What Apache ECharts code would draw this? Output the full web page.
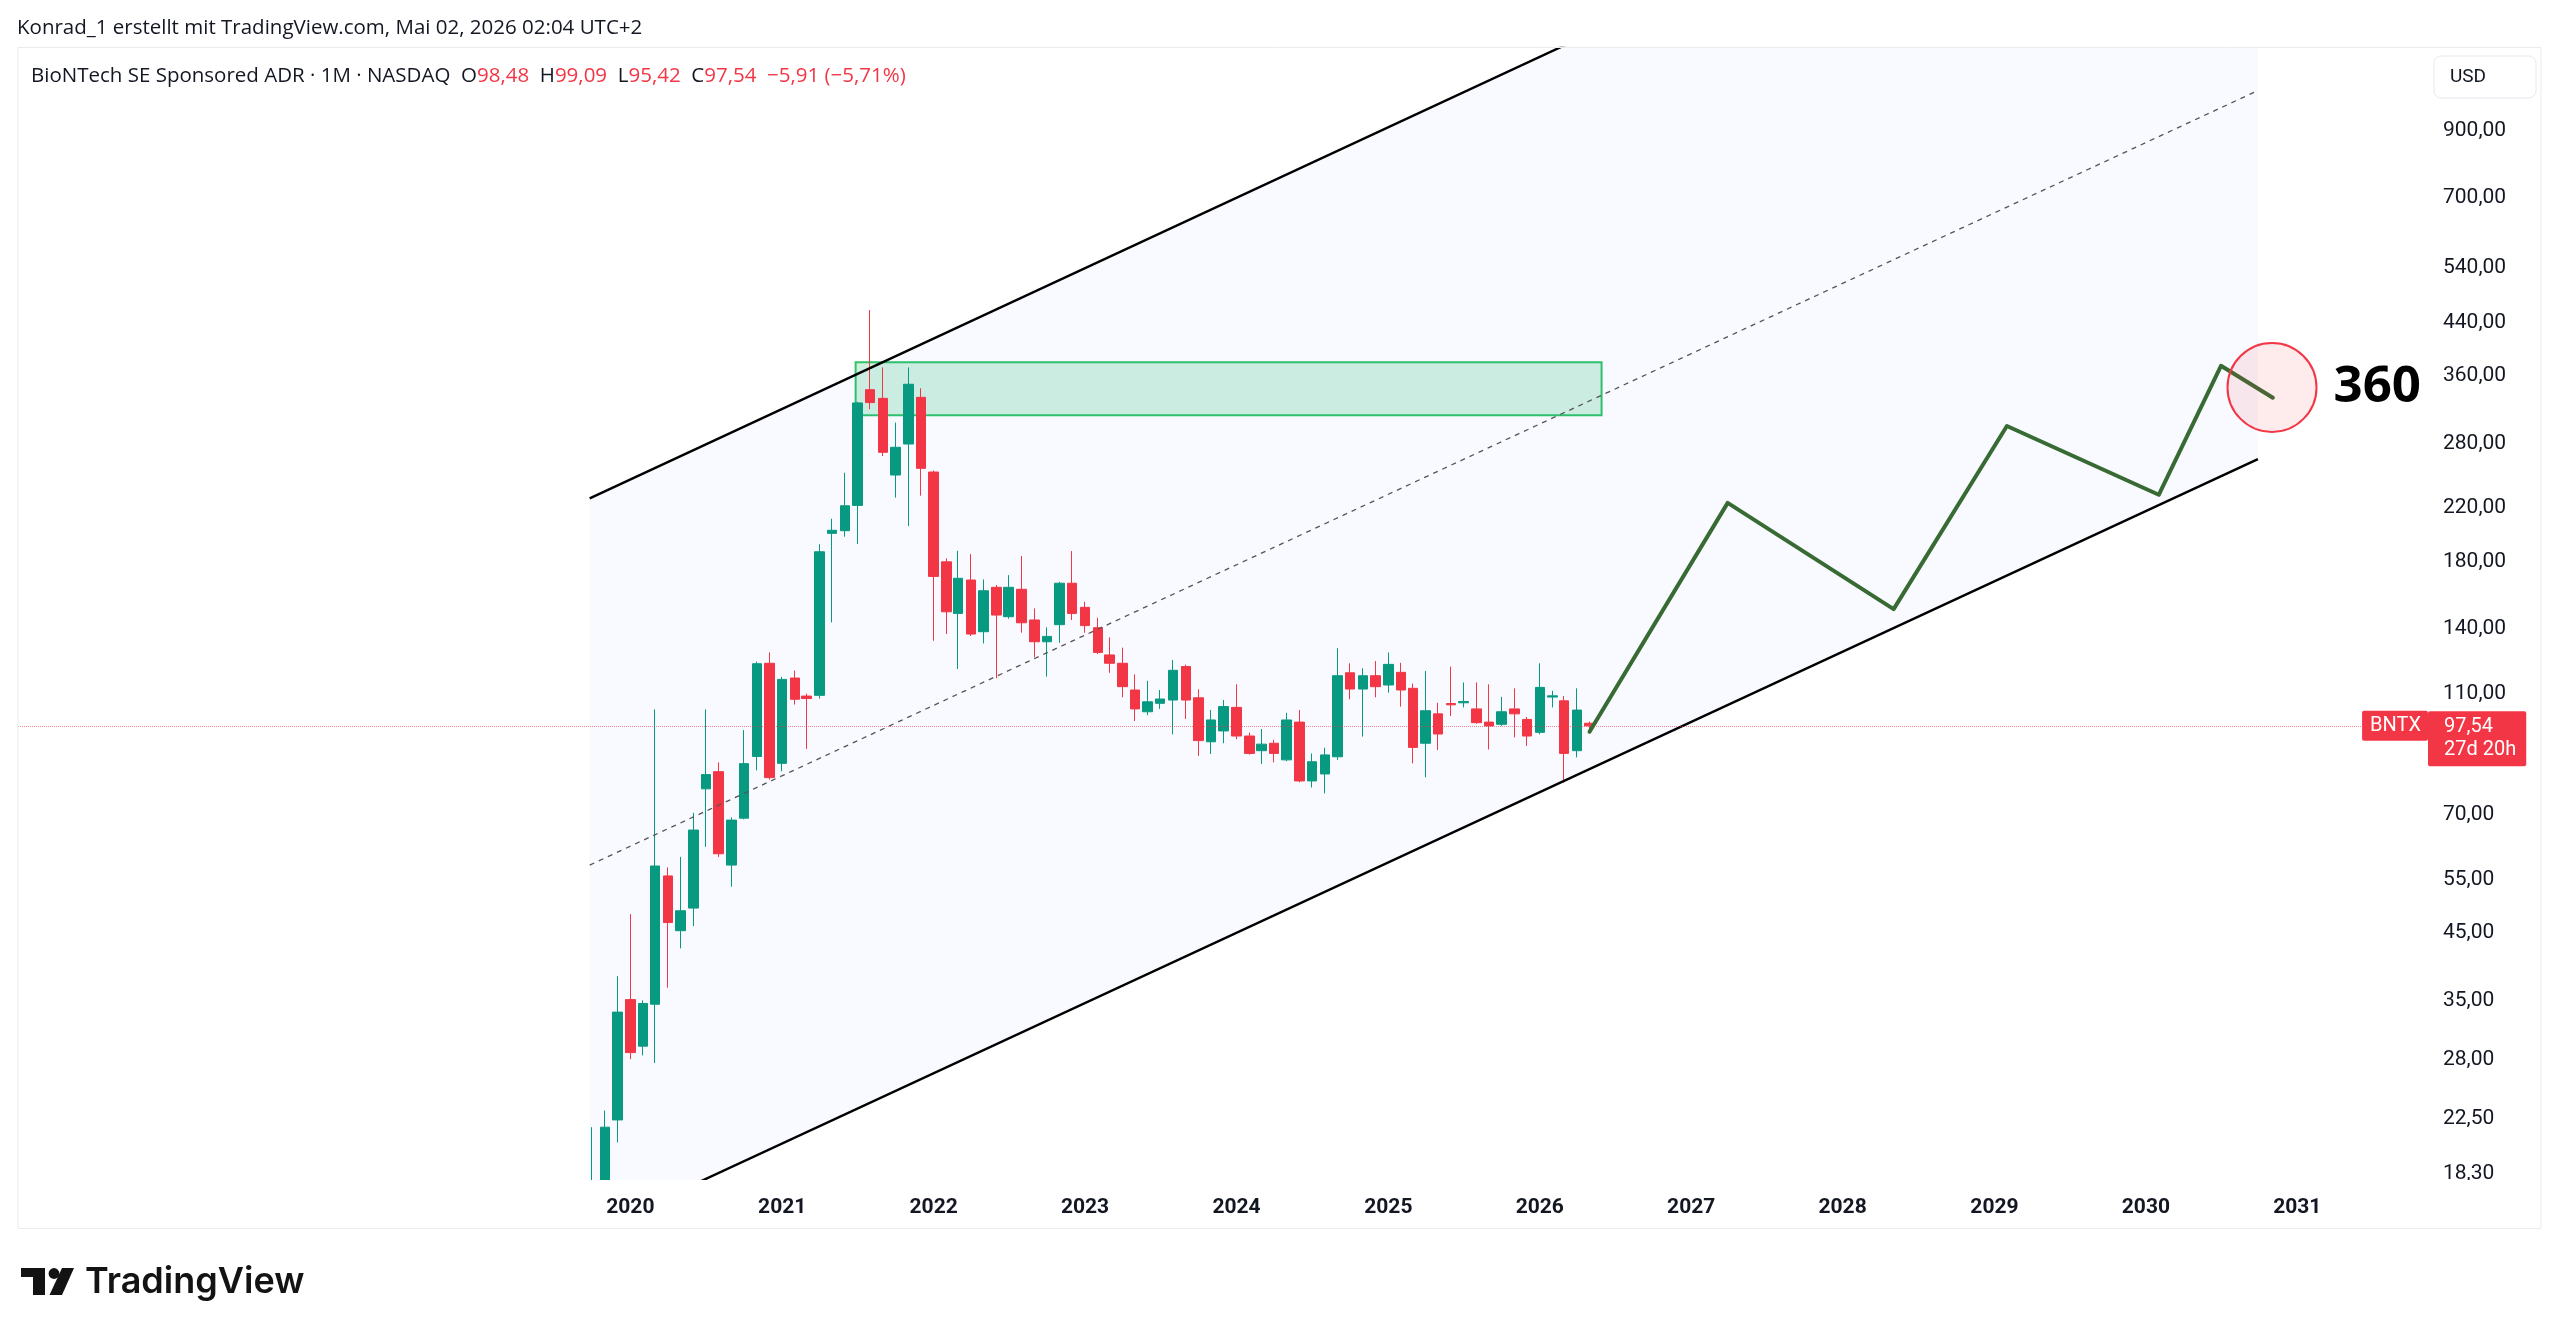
<!DOCTYPE html>
<html>
<head>
<meta charset="utf-8">
<title>BNTX 1M</title>
<script src="https://cdn.jsdelivr.net/npm/echarts@6.0.0/dist/echarts.min.js"></script>
<style>
  html, body { margin: 0; padding: 0; background: #ffffff; }
  #chart { width: 2560px; height: 1336px; }
</style>
</head>
<body>
<div id="chart"></div>
<script>
// monthly candles, BNTX (NASDAQ)
const months = [
  '2019-10-01', '2019-11-01', '2019-12-01',
  '2020-01-01', '2020-02-01', '2020-03-01', '2020-04-01', '2020-05-01', '2020-06-01',
  '2020-07-01', '2020-08-01', '2020-09-01', '2020-10-01', '2020-11-01', '2020-12-01',
  '2021-01-01', '2021-02-01', '2021-03-01', '2021-04-01', '2021-05-01', '2021-06-01',
  '2021-07-01', '2021-08-01', '2021-09-01', '2021-10-01', '2021-11-01', '2021-12-01',
  '2022-01-01', '2022-02-01', '2022-03-01', '2022-04-01', '2022-05-01', '2022-06-01',
  '2022-07-01', '2022-08-01', '2022-09-01', '2022-10-01', '2022-11-01', '2022-12-01',
  '2023-01-01', '2023-02-01', '2023-03-01', '2023-04-01', '2023-05-01', '2023-06-01',
  '2023-07-01', '2023-08-01', '2023-09-01', '2023-10-01', '2023-11-01', '2023-12-01',
  '2024-01-01', '2024-02-01', '2024-03-01', '2024-04-01', '2024-05-01', '2024-06-01',
  '2024-07-01', '2024-08-01', '2024-09-01', '2024-10-01', '2024-11-01', '2024-12-01',
  '2025-01-01', '2025-02-01', '2025-03-01', '2025-04-01', '2025-05-01', '2025-06-01',
  '2025-07-01', '2025-08-01', '2025-09-01', '2025-10-01', '2025-11-01', '2025-12-01',
  '2026-01-01', '2026-02-01', '2026-03-01', '2026-04-01', '2026-05-01'
];
const opens = [
  15.0, 17.5, 22.4,
  35.1, 29.5, 34.5, 55.7, 45.4, 49.4, 77.1, 82.2, 58.0, 69.1, 87.0, 123.2,
  84.8, 116.6, 109.0, 109.3, 200.1, 202.1, 222.1, 342.1, 331.2, 248.8, 279.3, 332.5,
  251.6, 179.9, 148.4, 168.1, 138.6, 163.6, 146.6, 162.4, 144.8, 133.5, 142.3, 166.1,
  151.8, 140.7, 127.1, 123.2, 111.5, 102.8, 106.1, 107.4, 121.7, 108.3, 91.9, 95.7,
  104.5, 93.9, 88.9, 91.4, 85.9, 98.9, 79.4, 81.5, 86.9, 118.9, 111.9, 117.6,
  113.6, 119.1, 112.2, 91.4, 102.0, 106.0, 106.3, 103.9, 98.9, 98.1, 103.9, 99.9,
  95.2, 108.6, 107.1, 88.9, 98.48
];
const highs = [
  21.8, 23.2, 38.3,
  48.3, 35.0, 103.7, 57.5, 59.8, 70.5, 103.7, 85.1, 69.3, 96.0, 124.0, 128.3,
  117.1, 119.9, 110.0, 192.1, 211.3, 250.9, 327.0, 460.6, 371.8, 302.5, 371.8, 343.9,
  253.0, 182.3, 187.5, 185.2, 168.5, 165.0, 171.2, 183.9, 151.2, 140.9, 167.0, 187.3,
  155.0, 146.0, 135.7, 130.6, 118.2, 115.4, 111.5, 124.7, 122.6, 111.8, 103.5, 107.4,
  113.9, 95.1, 96.4, 92.6, 102.4, 103.5, 88.0, 89.9, 130.3, 123.2, 120.9, 124.2,
  128.3, 123.4, 114.2, 119.7, 106.3, 121.6, 114.7, 114.7, 113.9, 108.7, 112.2, 100.8,
  123.2, 111.2, 109.0, 112.2, 99.09
];
const lows = [
  12.9, 16.5, 20.6,
  28.1, 28.5, 27.7, 36.7, 42.5, 46.2, 62.1, 59.8, 53.5, 68.8, 82.6, 79.8,
  82.3, 105.6, 89.5, 108.0, 143.5, 197.6, 192.3, 318.0, 267.1, 228.6, 205.6, 230.3,
  134.0, 137.4, 120.6, 136.4, 132.7, 116.5, 145.5, 138.1, 126.0, 117.2, 133.0, 144.8,
  138.1, 127.5, 118.9, 108.5, 99.3, 101.5, 103.9, 94.5, 100.1, 87.2, 87.8, 91.4,
  92.8, 87.6, 84.6, 85.1, 85.5, 79.0, 77.5, 75.8, 85.9, 107.7, 93.7, 108.5,
  110.4, 104.8, 84.8, 80.5, 89.1, 101.2, 104.5, 98.3, 89.3, 97.5, 93.4, 90.5,
  94.5, 104.5, 78.9, 86.7, 95.42
];
const closes = [
  17.5, 21.8, 33.5,
  28.8, 34.6, 57.8, 46.8, 48.9, 66.1, 81.3, 60.5, 68.6, 84.7, 123.0, 80.4,
  116.0, 107.7, 108.0, 186.8, 202.4, 221.8, 325.6, 326.0, 270.8, 275.9, 349.1, 255.1,
  170.4, 149.3, 169.2, 137.4, 161.5, 147.5, 163.6, 143.3, 133.5, 136.2, 166.1, 148.4,
  141.8, 128.3, 123.2, 112.9, 103.9, 106.7, 107.8, 120.0, 107.4, 92.3, 99.7, 104.8,
  93.9, 88.0, 91.1, 88.0, 99.7, 79.4, 85.3, 87.5, 117.6, 111.9, 117.6, 112.9,
  122.7, 111.5, 90.0, 103.2, 94.6, 105.5, 106.8, 98.7, 97.5, 102.8, 102.0, 93.9,
  112.6, 109.1, 88.0, 103.45, 97.54
];

// drawings
const channelDates = ['2019-09-25', '2030-09-28'];
const upperValues = [228, 4120];
const midValues = [58, 1045];
const lowerValues = [14.7, 264];

const zoneDates = ['2021-06-27', '2026-05-30'];
const zoneValues = [379, 311];

const pathDates = ['2026-05-01', '2027-03-30', '2028-05-03', '2029-01-31', '2030-02-01', '2030-07-01', '2030-11-03'];
const pathValues = [95.4, 224.2, 150.8, 298.7, 231.1, 374, 332];

const targetDate = '2030-11-01';
const targetValue = 345;
const targetText = '360';

const lastPrice = 97.54;
const priceTicks = [18.3, 22.5, 28, 35, 45, 55, 70, 110, 140, 180, 220, 280, 360, 440, 540, 700, 900];
const firstYearLabel = 2020;

const xMin = '2015-12-17';
const xMax = '2031-11-12';

const UP = '#089981';
const DOWN = '#f23645';
const INK = '#131722';
const YEAR_MS = 365.25 * 24 * 3600 * 1000;
const HEAD_FONT = '20.5px "Open Sans"';

function ts(s) {
  const p = s.split('-').map(Number);
  return new Date(p[0], p[1] - 1, p[2]).getTime();
}
function fmtPrice(v) {
  return Number(v).toFixed(2).replace('.', ',');
}

const candles = months.map((m, i) => [m, opens[i], closes[i], lows[i], highs[i]]);

const chartDom = document.getElementById('chart');
const myChart = echarts.init(chartDom);

const option = {
  animation: false,
  backgroundColor: '#ffffff',
  grid: { left: 18, right: 132, top: 48, bottom: 156 },
  xAxis: {
    type: 'time',
    z: 10,
    min: xMin,
    max: xMax,
    minInterval: YEAR_MS,
    maxInterval: YEAR_MS,
    axisLine: { show: false },
    axisTick: { show: false },
    splitLine: { show: false },
    axisLabel: {
      formatter: function (v) {
        const d = new Date(v);
        if (d.getMonth() !== 0 || d.getFullYear() < firstYearLabel) return '';
        return String(d.getFullYear());
      },
      color: INK,
      fontFamily: 'Roboto',
      fontWeight: 'bold',
      fontSize: 21,
      margin: 17,
      hideOverlap: false
    }
  },
  yAxis: {
    type: 'log',
    logBase: 10,
    position: 'right',
    min: 17.9,
    max: 1225,
    axisLine: { show: false },
    axisTick: { show: false },
    splitLine: { show: false },
    axisLabel: {
      customValues: priceTicks,
      formatter: (v) => fmtPrice(v),
      color: INK,
      fontFamily: 'Roboto',
      fontSize: 21,
      margin: 15
    }
  },
  series: [
    {
      // channel background
      type: 'custom',
      clip: true,
      silent: true,
      z: 1,
      data: [[channelDates[0], midValues[0]]],
      renderItem: function (params, api) {
        const t0 = ts(channelDates[0]);
        const t1 = ts(channelDates[1]);
        const pts = [
          api.coord([t0, upperValues[0]]),
          api.coord([t1, upperValues[1]]),
          api.coord([t1, lowerValues[1]]),
          api.coord([t0, lowerValues[0]])
        ];
        return {
          type: 'polygon',
          shape: { points: pts },
          style: { fill: 'rgba(41,98,255,0.03)' }
        };
      }
    },
    {
      type: 'candlestick',
      z: 3,
      barWidth: 10,
      clip: true,
      encode: { x: 0, y: [1, 2, 3, 4] },
      data: candles,
      itemStyle: {
        color: UP,
        color0: DOWN,
        borderColor: UP,
        borderColor0: DOWN,
        borderWidth: 1
      },
      markLine: {
        silent: true,
        symbol: ['none', 'none'],
        label: { show: false },
        lineStyle: { color: 'rgba(242,54,69,0.6)', type: 'dotted', width: 1 },
        data: [{ yAxis: lastPrice }]
      },
      markArea: {
        silent: true,
        itemStyle: {
          color: 'rgba(46,190,110,0.22)',
          borderColor: '#2fc46a',
          borderWidth: 2
        },
        data: [[
          { xAxis: zoneDates[0], yAxis: zoneValues[0] },
          { xAxis: zoneDates[1], yAxis: zoneValues[1] }
        ]]
      }
    },
    {
      type: 'line',
      z: 4,
      silent: true,
      symbol: 'none',
      lineStyle: { color: '#000000', width: 2.4 },
      data: [[channelDates[0], upperValues[0]], [channelDates[1], upperValues[1]]]
    },
    {
      type: 'line',
      z: 4,
      silent: true,
      symbol: 'none',
      lineStyle: { color: '#000000', width: 2.4 },
      data: [[channelDates[0], lowerValues[0]], [channelDates[1], lowerValues[1]]]
    },
    {
      type: 'line',
      z: 4,
      silent: true,
      symbol: 'none',
      lineStyle: { color: '#555555', width: 1.3, type: [5, 5] },
      data: [[channelDates[0], midValues[0]], [channelDates[1], midValues[1]]]
    },
    {
      // projected path
      type: 'line',
      z: 5,
      silent: true,
      symbol: 'none',
      lineStyle: { color: '#386a33', width: 4, cap: 'round', join: 'round' },
      data: pathDates.map((d, i) => [d, pathValues[i]])
    },
    {
      type: 'scatter',
      z: 6,
      clip: false,
      silent: true,
      symbol: 'circle',
      symbolSize: 89,
      itemStyle: {
        opacity: 1,
        color: 'rgba(242,54,69,0.1)',
        borderColor: '#f23645',
        borderWidth: 2
      },
      label: {
        show: true,
        position: 'right',
        distance: 16,
        formatter: targetText,
        color: '#000000',
        fontFamily: 'Open Sans',
        fontWeight: 'bold',
        fontSize: 51
      },
      data: [[targetDate, targetValue]]
    },
    {
      // last price tags on the price scale
      type: 'scatter',
      z: 7,
      clip: false,
      silent: true,
      symbolSize: 0,
      itemStyle: { opacity: 1 },
      data: [
        {
          value: [xMax, lastPrice],
          label: {
            show: true,
            position: 'left',
            distance: 0,
            formatter: 'BNTX',
            color: '#ffffff',
            fontFamily: 'Roboto',
            fontSize: 20,
            lineHeight: 22,
            backgroundColor: DOWN,
            borderRadius: 2,
            padding: [4, 7, 4, 8]
          }
        },
        {
          value: [xMax, lastPrice],
          label: {
            show: true,
            position: 'right',
            distance: 0,
            offset: [0, 13],
            formatter: fmtPrice(lastPrice) + '\n27d 20h',
            color: '#ffffff',
            fontFamily: 'Roboto',
            fontSize: 20,
            lineHeight: 23,
            backgroundColor: DOWN,
            borderRadius: 2,
            padding: [5, 10, 4, 16]
          }
        }
      ]
    }
  ],
  graphic: [
    {
      // hides whatever runs below the price pane
      type: 'rect',
      silent: true,
      z: 8,
      shape: { x: 0, y: 1180, width: 2560, height: 156 },
      style: { fill: '#ffffff' }
    },
    {
      type: 'rect',
      silent: true,
      z: 9,
      shape: { x: 18, y: 47.5, width: 2523, height: 1181 },
      style: { fill: 'none', stroke: '#e9ebf0', lineWidth: 1 }
    },
    {
      type: 'text',
      silent: true,
      x: 17,
      y: 28,
      style: {
        text: 'Konrad_1 erstellt mit TradingView.com, Mai 02, 2026 02:04 UTC+2',
        fill: INK,
        font: HEAD_FONT,
        verticalAlign: 'middle'
      }
    },
    {
      type: 'text',
      silent: true,
      x: 31,
      y: 76,
      style: {
        text: '{n|BioNTech SE Sponsored ADR · 1M · NASDAQ  O}{r|98,48}{n|  H}{r|99,09}{n|  L}{r|95,42}{n|  C}{r|97,54  −5,91 (−5,71%)}',
        verticalAlign: 'middle',
        rich: {
          n: { fill: INK, font: HEAD_FONT },
          r: { fill: DOWN, font: HEAD_FONT }
        }
      }
    },
    {
      type: 'rect',
      silent: true,
      shape: { x: 2434, y: 56, width: 102, height: 42, r: 7 },
      style: { fill: '#ffffff', stroke: '#e6e8ee', lineWidth: 1 }
    },
    {
      type: 'text',
      silent: true,
      x: 2450,
      y: 77,
      style: { text: 'USD', fill: INK, font: '19px Roboto', verticalAlign: 'middle' }
    },
    // TradingView mark
    {
      type: 'polygon',
      silent: true,
      z: 10,
      shape: { points: [[21, 1268], [45, 1268], [45, 1295], [33, 1295], [33, 1277], [21, 1277]] },
      style: { fill: '#131313' }
    },
    {
      type: 'circle',
      silent: true,
      z: 10,
      shape: { cx: 54, cy: 1273.5, r: 5.4 },
      style: { fill: '#131313' }
    },
    {
      type: 'polygon',
      silent: true,
      z: 10,
      shape: { points: [[62, 1268], [74, 1268], [62, 1295], [49.5, 1295]] },
      style: { fill: '#131313' }
    },
    {
      type: 'text',
      silent: true,
      z: 10,
      x: 85,
      y: 1282,
      style: { text: 'TradingView', fill: '#131313', font: '600 36px Inter', verticalAlign: 'middle' }
    }
  ]
};

myChart.setOption(option);
</script>
</body>
</html>
